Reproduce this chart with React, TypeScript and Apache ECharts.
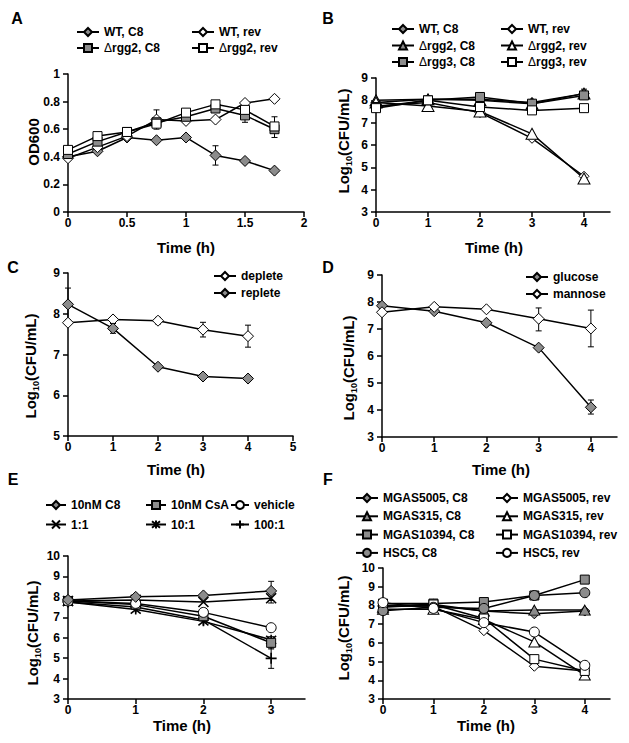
import React, { useEffect, useRef } from 'react';
import * as echarts from 'echarts';

const FONT = '"Liberation Sans", Arial, Helvetica, sans-serif';
const GRAY = '#8c8c8c';
const WHITE = '#ffffff';

// ---------- Panel A (OD600) ----------
const aTime = [0, 0.25, 0.5, 0.75, 1, 1.25, 1.5, 1.75];
const aWtC8 = [0.40, 0.44, 0.54, 0.52, 0.54, 0.41, 0.37, 0.30];
const aWtRev = [0.39, 0.47, 0.55, 0.67, 0.66, 0.67, 0.79, 0.82];
const aRgg2C8 = [0.42, 0.51, 0.58, 0.65, 0.69, 0.75, 0.70, 0.60];
const aRgg2Rev = [0.45, 0.55, 0.58, 0.64, 0.72, 0.78, 0.74, 0.62];
const aErr = [[0.75, 0.60, 0.74], [1.25, 0.34, 0.48], [1.5, 0.65, 0.76], [1.75, 0.54, 0.69]];

// ---------- Panel B ----------
const bTime = [0, 1, 2, 3, 4];
const bWtC8 = [7.9, 8.05, 8.05, 7.9, 8.3];
const bWtRev = [7.75, 7.9, 7.45, 6.3, 4.6];
const bRgg2C8 = [8.0, 8.05, 8.0, 7.85, 8.3];
const bRgg2Rev = [7.9, 7.75, 7.5, 6.5, 4.5];
const bRgg3C8 = [7.7, 8.0, 8.15, 7.85, 8.22];
const bRgg3Rev = [7.65, 8.0, 7.7, 7.55, 7.65];
const bErr = [[2, 8.0, 8.3], [4, 8.1, 8.5]];

// ---------- Panel C ----------
const cTime = [0, 1, 2, 3, 4];
const cDeplete = [7.78, 7.86, 7.83, 7.61, 7.45];
const cReplete = [8.23, 7.64, 6.70, 6.46, 6.41];
const cErr = [[0, 7.85, 8.63], [1, 7.52, 7.76], [2, 7.75, 7.91], [3, 7.43, 7.79], [4, 7.18, 7.72]];

// ---------- Panel D ----------
const dTime = [0, 1, 2, 3, 4];
const dGlucose = [7.86, 7.66, 7.23, 6.31, 4.10];
const dMannose = [7.62, 7.82, 7.73, 7.38, 7.02];
const dErr = [[1, 7.6, 7.9], [3, 6.93, 7.78], [4, 6.34, 7.70], [4, 3.85, 4.37]];

// ---------- Panel E ----------
const eTime = [0, 1, 2, 3];
const eC8 = [7.85, 8.0, 8.07, 8.29];
const eCsA = [7.8, 7.62, 7.05, 5.75];
const eVehicle = [7.8, 7.68, 7.24, 6.49];
const e1to1 = [7.8, 7.85, 7.75, 7.93];
const e10to1 = [7.75, 7.38, 6.8, 5.9];
const e100to1 = [7.75, 7.5, 6.87, 4.99];
const eErr = [[2, 6.9, 7.3], [3, 7.82, 8.76], [3, 7.7, 8.15], [3, 5.45, 6.05], [3, 4.5, 5.5]];

// ---------- Panel F ----------
const fTime = [0, 1, 2, 3, 4];
const f5005C8 = [7.95, 8.0, 7.7, 7.55, 7.7];
const f5005Rev = [8.0, 7.95, 6.65, 4.75, 4.5];
const f315C8 = [7.9, 8.05, 7.7, 7.75, 7.75];
const f315Rev = [7.8, 7.8, 7.25, 6.05, 4.28];
const f10394C8 = [8.1, 8.1, 8.18, 8.53, 9.38];
const f10394Rev = [8.0, 8.05, 7.3, 5.13, 4.5];
const fHsc5C8 = [7.72, 7.9, 7.84, 8.53, 8.68];
const fHsc5Rev = [8.15, 7.84, 7.08, 6.58, 4.8];

const X_SYM = 'path://M0,0L10,10M10,0L0,10';
const AST_SYM = 'path://M1,1L9,9M9,1L1,9M5,0L5,10';
const PLUS_SYM = 'path://M5,0L5,10M0,5L10,5';

function line(name: string, xs: number[], ys: number[], gi: number, symbol: string, size: any, fill: string, stroked = false) {
  return {
    type: 'line',
    name,
    xAxisIndex: gi,
    yAxisIndex: gi,
    data: xs.map((x, i) => [x, ys[i]]),
    symbol,
    symbolSize: size,
    showAllSymbol: true,
    z: 3,
    itemStyle: stroked
      ? { color: 'none', borderColor: '#000', borderWidth: 1.6 }
      : { color: fill, borderColor: '#000', borderWidth: 1 },
    lineStyle: { color: '#000', width: 1.5 },
    emphasis: { disabled: true },
  };
}

const renderErr = (params: any, api: any) => {
  const x = api.value(0);
  const a = api.coord([x, api.value(1)]);
  const b = api.coord([x, api.value(2)]);
  const w = 3;
  const st = { stroke: '#000', lineWidth: 1 };
  return {
    type: 'group',
    children: [
      { type: 'line', shape: { x1: a[0], y1: a[1], x2: b[0], y2: b[1] }, style: st },
      { type: 'line', shape: { x1: a[0] - w, y1: a[1], x2: a[0] + w, y2: a[1] }, style: st },
      { type: 'line', shape: { x1: b[0] - w, y1: b[1], x2: b[0] + w, y2: b[1] }, style: st },
    ],
  };
};

function errSeries(data: number[][], gi: number) {
  return {
    type: 'custom',
    name: 'err' + gi,
    xAxisIndex: gi,
    yAxisIndex: gi,
    data,
    encode: { x: 0, y: [1, 2] },
    renderItem: renderErr,
    z: 1,
    silent: true,
  };
}

const labelStyle = { color: '#000', fontWeight: 'bold', fontSize: 12, fontFamily: FONT };

function xAxis(gi: number, min: number, max: number, interval: number, custom?: number[]) {
  const ax: any = {
    type: 'value',
    gridIndex: gi,
    min,
    max,
    interval,
    axisLine: { show: true, onZero: false, lineStyle: { color: '#000', width: 1.5 } },
    axisTick: { show: true, inside: false, length: 5, lineStyle: { color: '#000', width: 1.5 } },
    splitLine: { show: false },
    axisLabel: { ...labelStyle, margin: 5 },
  };
  if (custom) {
    ax.axisTick.customValues = custom;
    ax.axisLabel.customValues = custom;
  }
  return ax;
}

function yAxis(gi: number, min: number, max: number, interval: number) {
  return {
    type: 'value',
    gridIndex: gi,
    min,
    max,
    interval,
    axisLine: { show: true, onZero: false, lineStyle: { color: '#000', width: 1.5 } },
    axisTick: { show: true, inside: false, length: 5, lineStyle: { color: '#000', width: 1.5 } },
    splitLine: { show: false },
    axisLabel: { ...labelStyle, margin: 8 },
  };
}

const legendFormatter = (n: string) => {
  const s = n.split('|')[0];
  return s.startsWith('Δ') ? '{d|Δ}' + s.slice(1) : s;
};

function legend(names: string[], left: number, top: number, gap: number, iw = 22) {
  return {
    data: names,
    orient: 'vertical',
    left,
    top,
    padding: 0,
    itemWidth: iw,
    itemHeight: 10,
    itemGap: gap,
    selectedMode: false,
    formatter: legendFormatter,
    textStyle: {
      color: '#000',
      fontWeight: 'bold',
      fontSize: 12,
      fontFamily: FONT,
      rich: { d: { fontWeight: 'normal', fontSize: 12, fontFamily: FONT, color: '#000' } },
    },
  };
}

function txt(text: string, x: number, y: number, size: number, rotate = false) {
  const el: any = {
    type: 'text',
    x,
    y,
    style: {
      text,
      fontSize: size,
      fontWeight: 'bold',
      fontFamily: FONT,
      fill: '#000',
      align: 'center',
      verticalAlign: 'middle',
      rich: { s: { fontSize: 9, fontWeight: 'bold', fontFamily: FONT, fill: '#000', verticalAlign: 'bottom', padding: [0, 0, -3, 0] } },
    },
  };
  if (rotate) el.rotation = Math.PI / 2;
  return el;
}

const LOG = 'Log{s|10}(CFU/mL)';

export default function App() {
  const ref = useRef<HTMLDivElement>(null);
  useEffect(() => {
    if (!ref.current) return;
    const chart = echarts.init(ref.current, undefined, { renderer: 'svg' });
    const option: any = {
      animation: false,
      backgroundColor: '#fff',
      textStyle: { fontFamily: FONT },
      grid: [
        { left: 68, top: 74, width: 236, height: 138 },
        { left: 376, top: 78, width: 234, height: 134 },
        { left: 68, top: 273, width: 225, height: 163 },
        { left: 382, top: 275, width: 235, height: 162 },
        { left: 68, top: 556, width: 237, height: 143 },
        { left: 383, top: 568, width: 227, height: 131 },
      ],
      xAxis: [
        xAxis(0, 0, 2, 0.5),
        xAxis(1, 0, 4.5, 1, [0, 1, 2, 3, 4]),
        xAxis(2, 0, 5, 1),
        xAxis(3, 0, 4.5, 1, [0, 1, 2, 3, 4]),
        xAxis(4, 0, 3.5, 1, [0, 1, 2, 3]),
        xAxis(5, 0, 4.5, 1, [0, 1, 2, 3, 4]),
      ],
      yAxis: [
        yAxis(0, 0, 1, 0.2),
        yAxis(1, 3, 9, 1),
        yAxis(2, 5, 9, 1),
        yAxis(3, 3, 9, 1),
        yAxis(4, 3, 10, 1),
        yAxis(5, 3, 10, 1),
      ],
      legend: [
        legend(['WT, C8|A', 'Δrgg2, C8|A'], 76, 26, 4),
        legend(['WT, rev|A', 'Δrgg2, rev|A'], 191, 26, 4),
        legend(['WT, C8|B', 'Δrgg2, C8|B', 'Δrgg3, C8|B'], 391, 23, 4.5),
        legend(['WT, rev|B', 'Δrgg2, rev|B', 'Δrgg3, rev|B'], 500, 23, 4.5),
        legend(['deplete', 'replete'], 213, 270, 5),
        legend(['glucose', 'mannose'], 525, 271, 5),
        legend(['10nM C8', '1:1'], 45, 499, 7, 20),
        legend(['10nM CsA', '10:1'], 145, 499, 7, 20),
        legend(['vehicle', '100:1'], 230, 499, 7, 18),
        legend(['MGAS5005, C8', 'MGAS315, C8', 'MGAS10394, C8', 'HSC5, C8'], 355, 492, 6.3),
        legend(['MGAS5005, rev', 'MGAS315, rev', 'MGAS10394, rev', 'HSC5, rev'], 495, 492, 6.3),
      ],
      series: [
        errSeries(aErr, 0),
        line('WT, C8|A', aTime, aWtC8, 0, 'diamond', 11, GRAY),
        line('WT, rev|A', aTime, aWtRev, 0, 'diamond', 11, WHITE),
        line('Δrgg2, C8|A', aTime, aRgg2C8, 0, 'rect', 9, GRAY),
        line('Δrgg2, rev|A', aTime, aRgg2Rev, 0, 'rect', 9, WHITE),

        errSeries(bErr, 1),
        line('WT, C8|B', bTime, bWtC8, 1, 'diamond', 10, GRAY),
        line('WT, rev|B', bTime, bWtRev, 1, 'diamond', 10, WHITE),
        line('Δrgg2, C8|B', bTime, bRgg2C8, 1, 'triangle', [12, 11], GRAY),
        line('Δrgg2, rev|B', bTime, bRgg2Rev, 1, 'triangle', [12, 11], WHITE),
        line('Δrgg3, C8|B', bTime, bRgg3C8, 1, 'rect', 9, GRAY),
        line('Δrgg3, rev|B', bTime, bRgg3Rev, 1, 'rect', 9, WHITE),

        errSeries(cErr, 2),
        line('deplete', cTime, cDeplete, 2, 'diamond', 11, WHITE),
        line('replete', cTime, cReplete, 2, 'diamond', 11, GRAY),

        errSeries(dErr, 3),
        line('glucose', dTime, dGlucose, 3, 'diamond', 11, GRAY),
        line('mannose', dTime, dMannose, 3, 'diamond', 11, WHITE),

        errSeries(eErr, 4),
        line('1:1', eTime, e1to1, 4, X_SYM, 10, 'none', true),
        line('10:1', eTime, e10to1, 4, AST_SYM, 10, 'none', true),
        line('100:1', eTime, e100to1, 4, PLUS_SYM, 11, 'none', true),
        line('10nM CsA', eTime, eCsA, 4, 'rect', 9, GRAY),
        line('vehicle', eTime, eVehicle, 4, 'circle', 10, WHITE),
        line('10nM C8', eTime, eC8, 4, 'diamond', 11, GRAY),

        line('MGAS5005, C8', fTime, f5005C8, 5, 'diamond', 10, GRAY),
        line('MGAS5005, rev', fTime, f5005Rev, 5, 'diamond', 10, WHITE),
        line('MGAS315, C8', fTime, f315C8, 5, 'triangle', [11, 10], GRAY),
        line('MGAS315, rev', fTime, f315Rev, 5, 'triangle', [11, 10], WHITE),
        line('MGAS10394, C8', fTime, f10394C8, 5, 'rect', 9, GRAY),
        line('MGAS10394, rev', fTime, f10394Rev, 5, 'rect', 9, WHITE),
        line('HSC5, C8', fTime, fHsc5C8, 5, 'circle', 10, GRAY),
        line('HSC5, rev', fTime, fHsc5Rev, 5, 'circle', 10, WHITE),
      ],
      graphic: [
        txt('A', 17, 18, 16),
        txt('B', 328, 18, 16),
        txt('C', 13, 267, 16),
        txt('D', 328, 267, 16),
        txt('E', 13, 479, 16),
        txt('F', 328, 479, 16),
        txt('OD600', 33, 142, 15, true),
        txt(LOG, 343, 141, 15, true),
        txt(LOG, 30, 366, 15, true),
        txt(LOG, 348, 368, 15, true),
        txt(LOG, 32, 633, 15, true),
        txt(LOG, 343, 628, 15, true),
        txt('Time (h)', 186, 247, 15),
        txt('Time (h)', 494, 247, 15),
        txt('Time (h)', 176, 469, 15),
        txt('Time (h)', 501, 469, 15),
        txt('Time (h)', 182, 725, 15),
        txt('Time (h)', 486, 725, 15),
      ],
    };
    chart.setOption(option);
    return () => chart.dispose();
  }, []);
  return (
    <div
      ref={ref}
      style={{ position: 'fixed', left: 0, top: 0, width: 629, height: 743, background: '#fff' }}
    />
  );
}
